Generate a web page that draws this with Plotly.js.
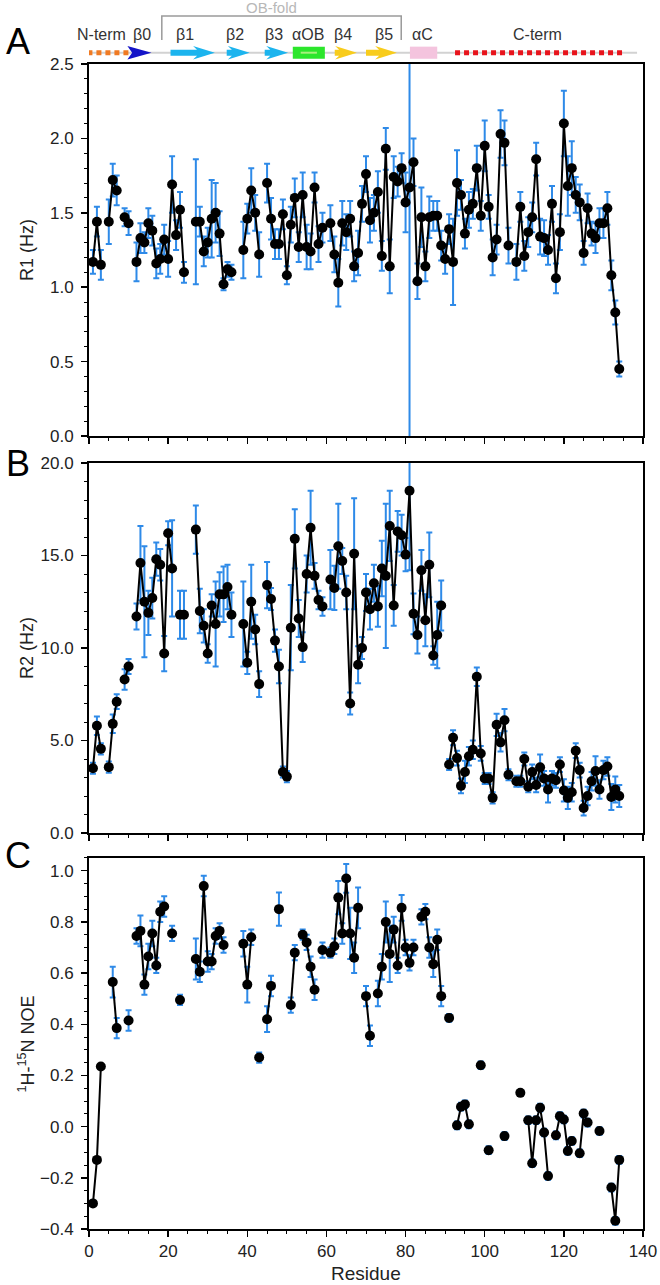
<!DOCTYPE html>
<html>
<head>
<meta charset="utf-8">
<script src="https://cdn.plot.ly/plotly-3.0.1.min.js"></script>
<style>
  html, body { margin: 0; padding: 0; background: #fff; }
  #chart { width: 660px; height: 1285px; }
</style>
</head>
<body>
<div id="chart"></div>
<script>
// residue numbers
var residue = [
  1, 2, 3, 4, 5, 6, 7, 8, 9, 10,
  11, 12, 13, 14, 15, 16, 17, 18, 19, 20,
  21, 22, 23, 24, 25, 26, 27, 28, 29, 30,
  31, 32, 33, 34, 35, 36, 37, 38, 39, 40,
  41, 42, 43, 44, 45, 46, 47, 48, 49, 50,
  51, 52, 53, 54, 55, 56, 57, 58, 59, 60,
  61, 62, 63, 64, 65, 66, 67, 68, 69, 70,
  71, 72, 73, 74, 75, 76, 77, 78, 79, 80,
  81, 82, 83, 84, 85, 86, 87, 88, 89, 90,
  91, 92, 93, 94, 95, 96, 97, 98, 99, 100,
  101, 102, 103, 104, 105, 106, 107, 108, 109, 110,
  111, 112, 113, 114, 115, 116, 117, 118, 119, 120,
  121, 122, 123, 124, 125, 126, 127, 128, 129, 130,
  131, 132, 133, 134
];

// panel A: R1 (Hz)
var r1 = [
  1.17, 1.44, 1.15, null, 1.44, 1.72, 1.65, null, 1.47, 1.43,
  null, 1.17, 1.33, 1.30, 1.43, 1.38, 1.16, 1.19, 1.32, 1.19,
  1.69, 1.35, 1.52, 1.10, null, null, 1.44, 1.44, 1.24, 1.30,
  1.46, 1.50, 1.36, 1.02, 1.12, 1.10, null, null, 1.25, 1.46,
  1.65, 1.50, 1.22, null, 1.70, 1.46, 1.29, 1.29, 1.49, 1.08,
  1.42, 1.60, 1.27, 1.62, 1.27, 1.24, 1.67, 1.29, 1.40, null,
  1.43, 1.22, 1.03, 1.43, 1.37, 1.46, 1.14, 1.23, 1.56, 1.76,
  1.45, 1.50, 1.64, 1.21, 1.93, 1.14, 1.74, 1.71, 1.80, 1.57,
  1.67, 1.84, 1.04, 1.47, 1.14, 1.47, 1.48, 1.48, 1.28, 1.19,
  1.39, 1.17, 1.70, 1.62, 1.36, 1.52, 1.56, 1.80, 1.48, 1.95,
  1.54, 1.20, 1.32, 2.03, 1.97, 1.28, null, 1.17, 1.54, 1.21,
  1.37, 1.47, 1.86, 1.34, 1.33, 1.25, 1.56, 1.06, 1.37, 2.10,
  1.68, 1.80, 1.62, 1.57, 1.23, 1.53, 1.36, 1.33, 1.43, 1.43,
  1.53, 1.08, 0.83, 0.45
];
var r1err = [
  0.08, 0.10, 0.10, 0, 0.15, 0.11, 0.10, 0, 0.06, 0.08,
  0, 0.13, 0.10, 0.07, 0.10, 0.10, 0.10, 0.10, 0.10, 0.12,
  0.19, 0.10, 0.12, 0.07, 0, 0, 0.42, 0.10, 0.10, 0.10,
  0.26, 0.20, 0.15, 0.04, 0.05, 0.05, 0, 0, 0.19, 0.10,
  0.15, 0.12, 0.15, 0, 0.13, 0.14, 0.10, 0.10, 0.10, 0.06,
  0.12, 0.13, 0.10, 0.15, 0.15, 0.12, 0.10, 0.12, 0.10, 0,
  0.12, 0.12, 0.16, 0.15, 0.12, 0.12, 0.10, 0.15, 0.12, 0.12,
  0.15, 0.12, 0.14, 0.10, 0.14, 0.18, 0.14, 0.10, 0.10, 0.20,
  1.70, 0.16, 0.12, 0.20, 0.10, 0.14, 0.10, 0.10, 0.10, 0.10,
  0.10, 0.29, 0.22, 0.10, 0.10, 0.12, 0.10, 0.15, 0.10, 0.17,
  0.08, 0.12, 0.10, 0.16, 0.15, 0.12, 0, 0.12, 0.10, 0.10,
  0.10, 0.10, 0.11, 0.12, 0.12, 0.10, 0.12, 0.10, 0.12, 0.22,
  0.20, 0.18, 0.12, 0.12, 0.08, 0.10, 0.08, 0.10, 0.10, 0.10,
  0.11, 0.10, 0.08, 0.05
];

// panel B: R2 (Hz)
var r2 = [
  3.5, 5.8, 4.55, null, 3.56, 5.9, 7.1, null, 8.3, 9.0,
  null, 11.7, 14.6, 12.5, 11.9, 12.7, 14.8, 14.5, 9.7, 16.2,
  14.3, null, 11.8, 11.8, null, null, 16.4, 12.0, 11.2, 9.7,
  12.3, 11.3, 12.9, 12.9, 13.3, 11.8, null, null, 11.3, 9.2,
  12.5, 11.0, 8.05, null, 13.4, 12.65, 10.4, 9.0, 3.3, 3.05,
  11.1, 15.9, 11.6, 10.05, 14.0, 16.5, 13.9, 12.6, 12.25, null,
  13.7, 13.25, 15.5, 14.7, 13.0, 7.0, 15.1, 9.1, 10.0, 13.0,
  12.1, 13.5, 12.25, 14.3, 13.9, 16.6, 12.3, 16.3, 16.1, 15.05,
  18.5, 11.85, 10.7, 14.2, 11.5, 14.5, 9.6, 10.7, 12.3, null,
  3.7, 5.15, 4.05, 2.55, 3.3, 4.15, 4.5, 8.45, 4.3, 2.95,
  2.95, 1.9, 5.85, 4.9, 6.1, 3.15, null, 2.8, 2.8, 4.0,
  2.5, 3.3, 2.6, 3.55, 2.95, 2.35, 2.95, 2.85, 3.7, 2.3,
  1.9, 2.2, 4.45, 3.4, 1.35, 2.0, 2.8, 3.35, 2.35, 3.4,
  3.6, 1.95, 2.35, 2.0
];
var r2err = [
  0.3, 0.5, 0.3, 0, 0.3, 0.5, 0.4, 0, 0.55, 0.4,
  0, 0.7, 2.0, 3.0, 1.2, 1.1, 0.9, 0.85, 0.95, 0.65,
  2.6, 0, 1.3, 1.3, 0, 0, 1.3, 1.2, 0.9, 0.5,
  0.6, 2.3, 1.2, 1.5, 1.2, 1.2, 0, 0, 2.3, 0.6,
  2.0, 0.8, 0.7, 0, 1.25, 0.6, 0.6, 0.9, 0.3, 0.3,
  2.3, 1.6, 1.0, 0.8, 1.0, 2.0, 0.7, 0.5, 0.5, 0,
  1.6, 1.2, 2.3, 0.7, 0.9, 0.6, 3.0, 1.0, 0.6, 1.0,
  1.1, 1.0, 1.1, 1.5, 3.9, 1.9, 1.1, 1.1, 1.1, 0.9,
  4.3, 1.1, 1.0, 1.1, 1.4, 1.75, 0.5, 1.8, 1.35, 0,
  0.3, 0.4, 0.4, 0.4, 0.6, 0.5, 0.5, 0.5, 0.4, 0.3,
  0.3, 0.3, 0.6, 0.5, 0.6, 0.3, 0, 0.3, 0.3, 0.35,
  0.3, 0.4, 0.4, 0.7, 0.4, 0.7, 0.4, 0.4, 0.4, 0.6,
  0.6, 0.5, 0.4, 0.4, 0.4, 0.5, 0.5, 0.8, 0.5, 0.5,
  0.5, 0.7, 0.7, 0.6
];

// panel C: 1H-15N NOE
var noe = [
  -0.30, -0.13, 0.235, null, null, 0.565, 0.385, null, null, 0.415,
  null, 0.745, 0.765, 0.555, 0.665, 0.755, 0.63, 0.84, 0.86, null,
  0.755, null, 0.495, null, null, null, 0.655, 0.605, 0.94, 0.645,
  0.645, 0.745, 0.765, 0.71, null, null, null, null, 0.715, 0.555,
  0.74, null, 0.27, null, 0.42, 0.55, null, 0.85, null, null,
  0.475, 0.68, null, 0.75, 0.72, 0.625, 0.535, null, 0.69, null,
  0.68, 0.705, 0.895, 0.755, 0.97, 0.755, 0.66, 0.855, null, 0.51,
  0.355, null, 0.52, 0.625, 0.80, 0.675, 0.77, 0.63, 0.855, 0.70,
  0.64, 0.70, null, 0.82, 0.84, 0.70, 0.635, 0.73, 0.51, null,
  0.425, null, 0.005, 0.078, 0.087, 0.009, null, null, 0.24, null,
  -0.092, null, null, null, -0.037, null, null, null, 0.132, null,
  0.025, -0.143, 0.025, 0.074, -0.023, -0.193, null, -0.034, 0.041, 0.028,
  -0.095, -0.056, null, -0.104, 0.051, 0.016, null, null, -0.017, null,
  null, -0.238, -0.368, -0.13
];
var noeerr = [
  0.01, 0.01, 0.01, 0, 0, 0.06, 0.04, 0, 0, 0.04,
  0, 0.03, 0.06, 0.04, 0.05, 0.05, 0.03, 0.04, 0.04, 0,
  0.03, 0, 0.02, 0, 0, 0, 0.08, 0.04, 0.04, 0.04,
  0.03, 0.03, 0.03, 0.03, 0, 0, 0, 0, 0.05, 0.07,
  0.03, 0, 0.02, 0, 0.05, 0.04, 0, 0.065, 0, 0,
  0.03, 0.03, 0, 0.02, 0.03, 0.04, 0.04, 0, 0.03, 0,
  0.02, 0.03, 0.065, 0.04, 0.056, 0.1, 0.06, 0.08, 0, 0.04,
  0.04, 0, 0.05, 0.05, 0.08, 0.11, 0.05, 0.03, 0.05, 0.03,
  0.03, 0.03, 0, 0.03, 0.03, 0.04, 0.05, 0.04, 0.04, 0,
  0.015, 0, 0.015, 0.015, 0.015, 0.015, 0, 0, 0.015, 0,
  0.015, 0, 0, 0, 0.015, 0, 0, 0, 0, 0,
  0.015, 0.015, 0.015, 0.015, 0.015, 0.015, 0, 0.015, 0.015, 0.015,
  0.015, 0.015, 0, 0.015, 0.015, 0.015, 0, 0, 0.015, 0,
  0, 0.015, 0.015, 0.015
];

// secondary structure (residue ranges)
var ssNames  = ["β0", "β1", "β2", "β3", "αOB", "β4", "β5", "αC"];
var ssType   = ["head", "arrow", "arrow", "arrow", "box", "arrow", "arrow", "box"];
var ssStart  = [9.7, 20.6, 34.8, 44.4, 51.5, 62.1, 70.0, 81.1];
var ssEnd    = [15.8, 31.8, 40.6, 50.3, 59.6, 67.7, 77.8, 88.0];
var ssColor  = ["#1414c8", "#1cb4ee", "#1cb4ee", "#1cb4ee", "#2ce62c", "#f8cc1c", "#f8cc1c", "#f4c4de"];
var ssLabelX = [13.3, 24.2, 36.8, 46.7, 55.3, 64.2, 74.6, 84.2];
var termNames = ["N-term", "C-term"];
var termStart = [-0.4, 92.5];
var termEnd   = [10.0, 135.0];
var termColor = ["#f07a22", "#e8141c"];
var termLabelX = [3.2, 113.3];
var obFold = [18.4, 78.9];

var font = "Liberation Sans, Arial, sans-serif";
var ebColor = "#2e8ae8";

function panelTrace(y, err, xa, ya) {
  return {
    x: residue,
    y: y,
    xaxis: xa,
    yaxis: ya,
    type: "scatter",
    mode: "lines+markers",
    line: {color: "#000", width: 2},
    marker: {color: "#000", size: 10},
    error_y: {type: "data", array: err, visible: true, color: ebColor, thickness: 2, width: 3},
    connectgaps: false,
    showlegend: false,
    hoverinfo: "x+y"
  };
}

var traces = [
  panelTrace(r1, r1err, "x3", "y3"),
  panelTrace(r2, r2err, "x2", "y2"),
  panelTrace(noe, noeerr, "x", "y")
];

function xAxis(anchor, labels) {
  return {
    anchor: anchor,
    range: [0, 140],
    dtick: 20,
    tick0: 0,
    ticks: "outside",
    ticklen: 6,
    tickwidth: 1.5,
    tickcolor: "#000",
    minor: {dtick: 5, ticks: "outside", ticklen: 3, tickwidth: 1, tickcolor: "#000"},
    showticklabels: labels,
    tickfont: {family: font, size: 17, color: "#222"},
    showline: true,
    linewidth: 2,
    linecolor: "#000",
    mirror: true,
    showgrid: false,
    zeroline: false
  };
}

function yAxis(domain, range, dtick, minor) {
  return {
    domain: domain,
    range: range,
    dtick: dtick,
    tick0: 0,
    tickformat: ".1f",
    ticks: "outside",
    ticklen: 6,
    tickwidth: 1.5,
    tickcolor: "#000",
    ticklabelstandoff: 4,
    minor: {dtick: minor, ticks: "outside", ticklen: 3, tickwidth: 1, tickcolor: "#000"},
    tickfont: {family: font, size: 17, color: "#222"},
    showline: true,
    linewidth: 2,
    linecolor: "#000",
    mirror: true,
    showgrid: false,
    zeroline: false
  };
}

// secondary structure strip above panel A
var yc = 1.0097;       // backbone level (paper)
var shaftH = 0.0026;
var headH = 0.0058;
var headLen = 4.5;
var shapes = [];

shapes.push({type: "line", xref: "x3", yref: "paper", x0: 0, x1: 138.5, y0: yc, y1: yc,
  line: {color: "#d2d2d2", width: 2}});

for (var t = 0; t < termNames.length; t++) {
  shapes.push({type: "line", xref: "x3", yref: "paper", x0: termStart[t], x1: termEnd[t], y0: yc, y1: yc,
    line: {color: termColor[t], width: 5, dash: "5px,4px"}});
}

for (var i = 0; i < ssNames.length; i++) {
  var x0 = ssStart[i], x1 = ssEnd[i];
  var path;
  if (ssType[i] == "box") {
    shapes.push({type: "rect", xref: "x3", yref: "paper", x0: x0, x1: x1, y0: yc - 0.0052, y1: yc + 0.0052,
      fillcolor: ssColor[i], line: {width: 0}});
    if (ssNames[i] == "αOB") {
      shapes.push({type: "line", xref: "x3", yref: "paper", x0: x0 + 2, x1: x1 - 2, y0: yc, y1: yc,
        line: {color: "#a8f07c", width: 2}});
    }
  } else if (ssType[i] == "head") {
    path = "M " + x0 + "," + (yc - headH) + " L " + x1 + "," + yc + " L " + x0 + "," + (yc + headH) +
      " L " + (x0 + 1.2) + "," + yc + " Z";
    shapes.push({type: "path", xref: "x3", yref: "paper", path: path, fillcolor: ssColor[i], line: {width: 0}});
  } else {
    var xh = x1 - headLen;
    path = "M " + x0 + "," + (yc - shaftH) + " L " + xh + "," + (yc - shaftH) + " L " + (xh - 1) + "," + (yc - headH) +
      " L " + x1 + "," + yc + " L " + (xh - 1) + "," + (yc + headH) + " L " + xh + "," + (yc + shaftH) +
      " L " + x0 + "," + (yc + shaftH) + " Z";
    shapes.push({type: "path", xref: "x3", yref: "paper", path: path, fillcolor: ssColor[i], line: {width: 0}});
  }
}

// OB-fold bracket
shapes.push({type: "path", xref: "x3", yref: "paper",
  path: "M " + obFold[0] + ",1.0206 L " + obFold[0] + ",1.0412 L " + obFold[1] + ",1.0412 L " + obFold[1] + ",1.0206",
  line: {color: "#9a9a9a", width: 1.5}});

var annotations = [];
function note(xref, x, y, text, size, color, angle) {
  annotations.push({xref: xref, yref: "paper", x: x, y: y, text: text, showarrow: false,
    xanchor: "center", yanchor: "middle", textangle: angle || 0,
    font: {family: font, size: size, color: color}});
}

for (var j = 0; j < ssNames.length; j++) {
  note("x3", ssLabelX[j], 1.0249, ssNames[j], 16, "#333");
}
for (var k = 0; k < termNames.length; k++) {
  note("x3", termLabelX[k], 1.0249, termNames[k], 16, "#333");
}
note("x3", (obFold[0] + obFold[1]) / 2 - 2.5, 1.0482, "OB-fold", 15, "#b8b8b8");

// panel letters
var letters = ["A", "B", "C"];
var letterY = [1.0197, 0.6567, 0.3210];
for (var m = 0; m < letters.length; m++) {
  note("paper", -0.128, letterY[m], letters[m], 36, "#000");
}

// axis titles
var yTitles = ["R1 (Hz)", "R2 (Hz)", "<sup>1</sup>H-<sup>15</sup>N NOE"];
var yTitleY = [0.8403, 0.4987, 0.1592];
for (var n = 0; n < yTitles.length; n++) {
  note("paper", -0.112, yTitleY[n], yTitles[n], 18, "#222", -90);
}
note("paper", 0.5, -0.0378, "Residue", 19, "#222");

var layout = {
  width: 660,
  height: 1285,
  margin: {l: 89, r: 17, t: 64, b: 56},
  paper_bgcolor: "#fff",
  plot_bgcolor: "#fff",
  showlegend: false,
  font: {family: font},
  xaxis: xAxis("y", true),
  xaxis2: xAxis("y2", false),
  xaxis3: xAxis("y3", false),
  yaxis: yAxis([0, 0.3185], [-0.4, 1.05], 0.2, 0.05),
  yaxis2: yAxis([0.3399, 0.6575], [0, 20], 5, 1),
  yaxis3: yAxis([0.6807, 1], [0, 2.5], 0.5, 0.1),
  shapes: shapes,
  annotations: annotations
};

Plotly.newPlot("chart", traces, layout, {displayModeBar: false, staticPlot: true});
</script>
</body>
</html>
